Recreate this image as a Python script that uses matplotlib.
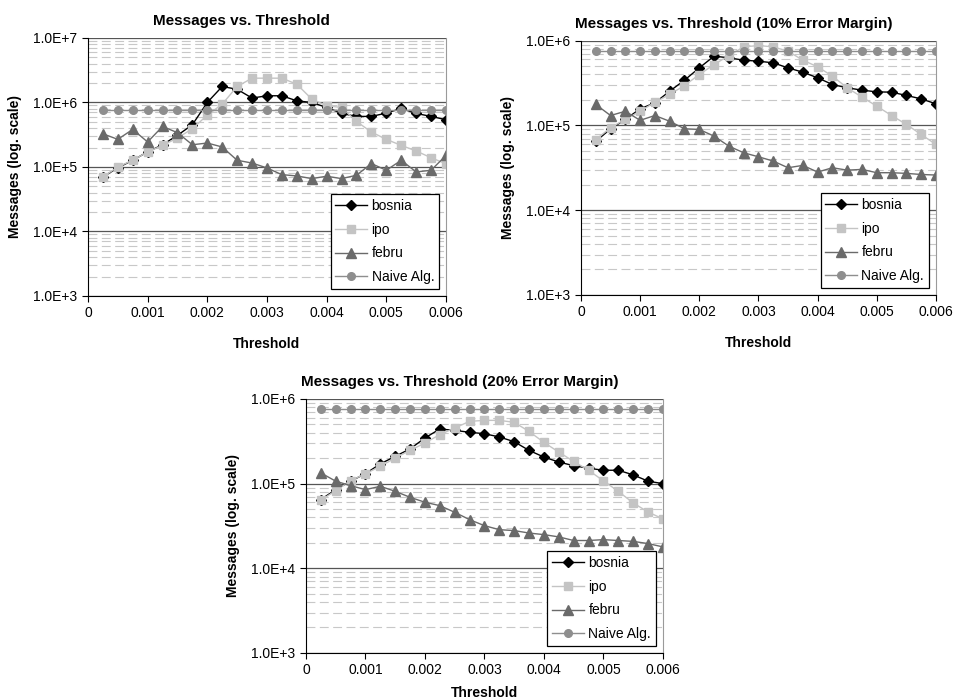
import numpy as np
import matplotlib
matplotlib.use("Agg")
import matplotlib.pyplot as plt
from matplotlib.ticker import FixedLocator, LogLocator, NullFormatter

# Threshold values (x axis)
thresholds = [0.00025 * (i + 1) for i in range(24)]

# Messages vs. Threshold
bosnia_0 = [70000, 97000, 127000, 171000, 221000, 309000, 452000, 1000000,
            1770000, 1600000, 1170000, 1270000, 1270000, 1060000, 1000000, 837000,
            676000, 608000, 608000, 684000, 807000, 676000, 608000, 540000]
ipo_0 = [70000, 100000, 127000, 171000, 216000, 281000, 392000, 636000,
         942000, 1770000, 2380000, 2380000, 2380000, 1920000, 1130000, 888000,
         837000, 508000, 348000, 268000, 216000, 177000, 139000, 112000]
febru_0 = [327000, 268000, 382000, 244000, 425000, 340000, 221000, 235000,
           204000, 127000, 115000, 96500, 76000, 72600, 66000, 71800,
           66000, 74300, 113000, 88800, 127000, 83700, 88800, 151000]

# Messages vs. Threshold (10% Error Margin)
bosnia_10 = [65000, 91000, 118000, 157000, 185000, 254000, 342000, 478000,
             657000, 628000, 589000, 573000, 548000, 478000, 425000, 365000,
             304000, 278000, 261000, 249000, 247000, 226000, 206000, 180000]
ipo_10 = [68000, 94000, 118000, 147000, 188000, 232000, 296000, 399000,
          523000, 668000, 845000, 877000, 845000, 752000, 589000, 492000,
          382000, 278000, 216000, 169000, 131000, 103000, 78300, 59700]
febru_10 = [177000, 131000, 147000, 115000, 131000, 112000, 91400, 89700,
            74800, 57000, 47600, 42700, 38000, 31700, 33800, 28200,
            31700, 29700, 30300, 27700, 27700, 27200, 26400, 26000]

# Messages vs. Threshold (20% Error Margin)
bosnia_20 = [64800, 85000, 107000, 131000, 171000, 210000, 257000, 346000,
             442000, 426000, 404000, 389000, 356000, 313000, 247000, 206000,
             180000, 163000, 152000, 144000, 144000, 127000, 107000, 100000]
ipo_20 = [63600, 82700, 108000, 131000, 160000, 201000, 247000, 302000,
          379000, 454000, 544000, 559000, 559000, 530000, 414000, 307000,
          236000, 183000, 144000, 108000, 81200, 59200, 46300, 38300]
febru_20 = [134000, 107000, 94700, 85000, 93000, 81200, 69000, 60300,
            55000, 45900, 37600, 31900, 28600, 27900, 26100, 25000,
            23500, 21300, 21300, 21800, 21300, 20800, 19600, 17900]

naive = [755000] * 24

ytick_labels = {1e3: "1.0E+3", 1e4: "1.0E+4", 1e5: "1.0E+5", 1e6: "1.0E+6", 1e7: "1.0E+7"}

plt.rcParams["font.family"] = ["Liberation Sans", "DejaVu Sans"]


def draw_panel(ax, title, bosnia, ipo, febru, ymax, xpad):
    ax.plot(thresholds, bosnia, color="black", marker="D", markersize=5, lw=1, label="bosnia")
    ax.plot(thresholds, ipo, color="#c4c4c4", marker="s", markersize=5.5, lw=1, label="ipo")
    ax.plot(thresholds, febru, color="#6a6a6a", marker="^", markersize=6.5, lw=1, label="febru")
    ax.plot(thresholds, naive, color="#8e8e8e", marker="o", markersize=5.5, lw=1, label="Naive Alg.")

    ax.set_yscale("log")
    ax.set_ylim(1e3, ymax)
    ax.set_xlim(0, 0.006)

    majors = [v for v in ytick_labels if v <= ymax]
    ax.yaxis.set_major_locator(FixedLocator(majors))
    ax.set_yticklabels([ytick_labels[v] for v in majors])
    ax.yaxis.set_minor_locator(LogLocator(base=10, subs=np.arange(2, 10)))
    ax.yaxis.set_minor_formatter(NullFormatter())
    ax.tick_params(axis="y", which="minor", length=0)
    ax.tick_params(axis="both", which="major", direction="out", length=4, labelsize=10)

    ax.set_xticks([0, 0.001, 0.002, 0.003, 0.004, 0.005, 0.006])
    ax.set_xticklabels(["0", "0.001", "0.002", "0.003", "0.004", "0.005", "0.006"])

    ax.grid(True, which="major", axis="y", color="#555555", lw=0.9)
    ax.grid(True, which="minor", axis="y", color="#c8c8c8", lw=0.8, ls=(0, (8, 4)))
    ax.set_axisbelow(True)

    ax.spines["top"].set_visible(False)
    ax.spines["right"].set_color("#9a9a9a")
    ax.spines["left"].set_color("black")
    ax.spines["bottom"].set_color("black")

    ax.set_title(title, fontsize=11, fontweight="bold", pad=9, x=0.43)
    ax.set_xlabel("Threshold", fontsize=10, fontweight="bold", labelpad=xpad)
    ax.set_ylabel("Messages (log. scale)", fontsize=10, fontweight="bold", labelpad=8)

    leg = ax.legend(loc="lower right", fontsize=10, frameon=True, fancybox=False,
                    edgecolor="black", framealpha=1, borderaxespad=0.5,
                    handlelength=2.3, labelspacing=0.7, borderpad=0.35,
                    handletextpad=0.3)
    leg.get_frame().set_linewidth(0.9)


fig = plt.figure(figsize=(9.56, 6.98), dpi=100)

ax1 = fig.add_axes([0.092, 0.576, 0.3745, 0.3696])
draw_panel(ax1, "Messages vs. Threshold", bosnia_0, ipo_0, febru_0, 1e7, 12)

ax2 = fig.add_axes([0.6077, 0.5774, 0.3713, 0.3643])
draw_panel(ax2, "Messages vs. Threshold (10% Error Margin)", bosnia_10, ipo_10, febru_10, 1e6, 12)

ax3 = fig.add_axes([0.32, 0.0645, 0.3734, 0.3639])
draw_panel(ax3, "Messages vs. Threshold (20% Error Margin)", bosnia_20, ipo_20, febru_20, 1e6, 6)

fig.savefig("out.png", dpi=100)
